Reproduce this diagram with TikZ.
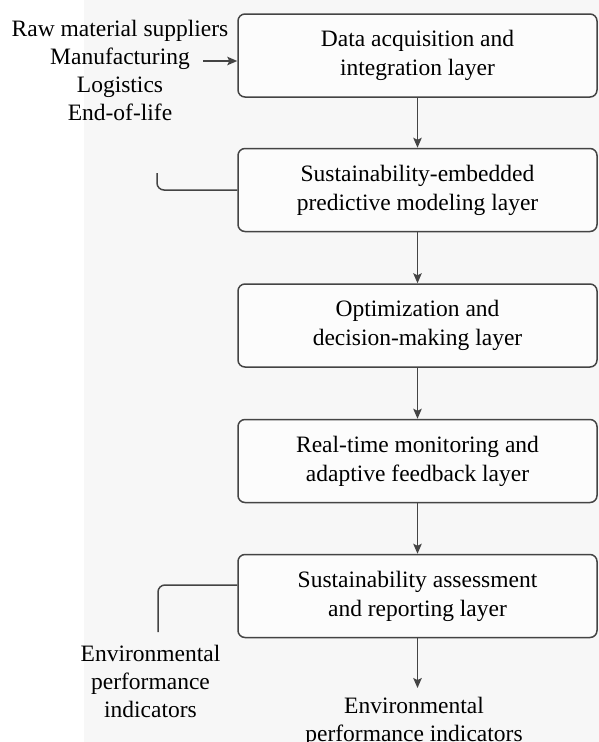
\documentclass[tikz,border=0pt]{standalone}
\usepackage{fontspec}
\setmainfont{Liberation Serif}
\usetikzlibrary{arrows.meta}
\definecolor{linegray}{HTML}{444444}
\definecolor{bggray}{HTML}{F7F7F7}
\tikzset{
  layerbox/.style={draw=linegray, line width=1.5pt, rounded corners=7pt, fill=white!60!bggray,
    minimum width=359pt, minimum height=83pt, align=center, inner sep=0pt,
    font=\fontsize{23.5}{29}\selectfont},
  lbl/.style={align=center, inner sep=0pt, anchor=base, font=\fontsize{23.5}{27.7}\selectfont},
  flow/.style={draw=linegray, line width=1.5pt, -{Stealth[length=10pt,width=8.5pt,inset=2pt]}},
  brace/.style={draw=linegray, line width=1.5pt, rounded corners=7pt}
}
\begin{document}
\begin{tikzpicture}[x=1pt,y=-1pt]
\useasboundingbox (0,0) rectangle (599,742);
\fill[white] (0,0) rectangle (599,742);
\fill[bggray] (84,0) rectangle (599,742);

\node[layerbox] (b1) at (417.5,55.5) {Data acquisition and\\integration layer};
\node[layerbox] (b2) at (417.5,190) {Sustainability-embedded\\predictive modeling layer};
\node[layerbox] (b3) at (417.5,325.5) {Optimization and\\decision-making layer};
\node[layerbox] (b4) at (417.5,461) {Real-time monitoring and\\adaptive feedback layer};
\node[layerbox] (b5) at (417.5,596) {Sustainability assessment\\and reporting layer};

\node[lbl] (src) at (120,120) {Raw material suppliers\\Manufacturing\\Logistics\\End-of-life};
\coordinate (srcend) at (203,61);
\draw[flow] (srcend) -- (srcend -| b1.west);

\draw[flow] (b1) -- (b2);
\draw[flow] (b2) -- (b3);
\draw[flow] (b3) -- (b4);
\draw[flow] (b4) -- (b5);

\coordinate (c2) at (157,173);
\draw[brace] (b2.west) -| (c2);

\node[lbl] (envl) at (150.5,717) {Environmental\\performance\\indicators};
\coordinate (c5) at (158,632);
\draw[brace] (b5.west |- 0,585) -| (c5);

\node[lbl] (envb) at (414,741) {Environmental\\performance indicators};
\coordinate (c6) at (417.5,688);
\draw[flow] (b5.south) -- (c6);
\end{tikzpicture}
\end{document}
